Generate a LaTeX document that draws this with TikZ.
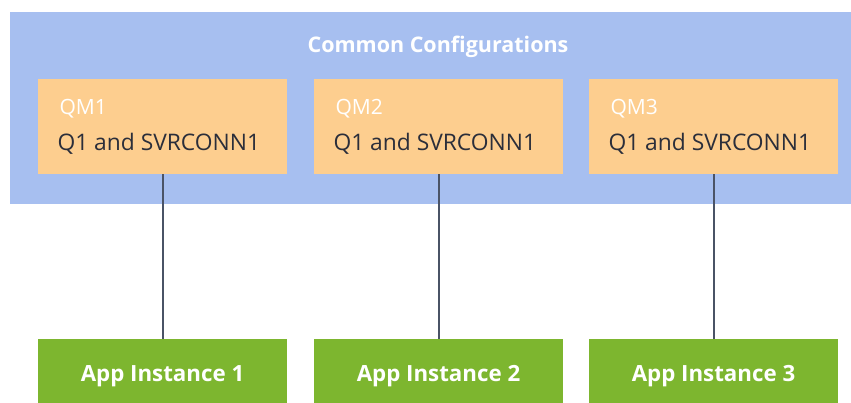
\documentclass[tikz,border=0pt]{standalone}
\usepackage{fontspec}
\setmainfont{Open Sans}
\definecolor{cfgblue}{HTML}{A7BFF0}
\definecolor{qmorange}{HTML}{FDCE8F}
\definecolor{appgreen}{HTML}{7DB62F}
\definecolor{linkgrey}{HTML}{4A5366}
\definecolor{txtdark}{HTML}{2B2E3A}
\tikzset{
  qmbox/.style={fill=qmorange, draw=none, minimum width=249pt, minimum height=95pt, inner sep=0pt, anchor=north west},
  appbox/.style={fill=appgreen, draw=none, minimum width=249pt, minimum height=72pt, inner sep=0pt, anchor=north west},
  link/.style={draw=linkgrey, line width=2pt},
  qmname/.style={text=white, font=\fontsize{21}{24}\selectfont, anchor=base west},
  qmdesc/.style={text=txtdark, font=\fontsize{22.8}{26}\selectfont, anchor=base west},
  apptext/.style={text=white, font=\bfseries\fontsize{22.3}{26}\selectfont}
}
\begin{document}
\begin{tikzpicture}[x=1pt,y=-1pt]
\useasboundingbox (0,0) rectangle (851,402);
\clip (0,0) rectangle (851,402);
\fill[white] (0,0) rectangle (851,402);
\node[fill=cfgblue, draw=none, minimum width=842pt, minimum height=192pt, inner sep=0pt, anchor=north west] (cfg) at (10,12) {};
\node[text=white, font=\bfseries\fontsize{21.5}{24}\selectfont, anchor=base] (title) at (438,52) {Common Configurations};
\foreach \i/\x in {1/38, 2/314, 3/589} {
  \node[qmbox] (qm\i) at (\x,79) {};
  \node[qmname] (qmn\i) at (\x+18,114) {QM\i};
  \node[qmdesc] (qmd\i) at (\x+16,150) {Q1 and SVRCONN1};
  \node[appbox] (app\i) at (\x,339) {};
  \node[apptext] (appt\i) at (\x+124.5,376) {App Instance \i};
  \draw[link] (qm\i.south) -- (app\i.north);
}
\end{tikzpicture}
\end{document}
